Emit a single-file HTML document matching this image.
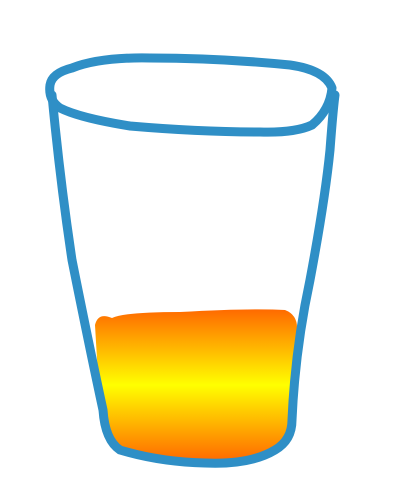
<!DOCTYPE html>
<html><head><meta charset="utf-8"><style>
html,body{margin:0;padding:0;background:#fff;width:400px;height:500px;overflow:hidden}
svg{display:block}
</style></head><body>
<svg width="400" height="500" viewBox="0 0 400 500">
<defs>
<linearGradient id="liq" x1="0" y1="0" x2="0" y2="1">
<stop offset="0" stop-color="#ff6a00"/>
<stop offset="0.5" stop-color="#ffff00"/>
<stop offset="1" stop-color="#ff6a00"/>
</linearGradient>
</defs>
<path fill="url(#liq)" d="M95,325 Q98,312 112,318 Q125,312 180,312 Q250,308 285,310 Q298,315 297,330 L295,430 Q292,448 270,455 Q230,462 175,460 Q128,458 112,445 Q100,432 100,410 Z"/>
<path fill="none" stroke="#2f8fc6" stroke-width="9" stroke-linecap="round" stroke-linejoin="round" d="M50,85 Q52,73 72,68 Q100,57 150,58 Q220,58 290,65 Q325,70 332,88 Q330,110 312,125 Q295,133 260,132 Q200,132 130,126 Q80,118 60,108 Q48,100 50,85 Z"/>
<path fill="none" stroke="#2f8fc6" stroke-width="9" stroke-linecap="round" stroke-linejoin="round" d="M52,95 Q60,180 72,260 Q90,350 103,410 Q105,440 120,450 Q160,462 205,463 Q250,465 275,450 Q292,440 292,420 Q295,350 310,280 Q325,200 330,150 Q333,110 335,95"/>
</svg>
</body></html>
